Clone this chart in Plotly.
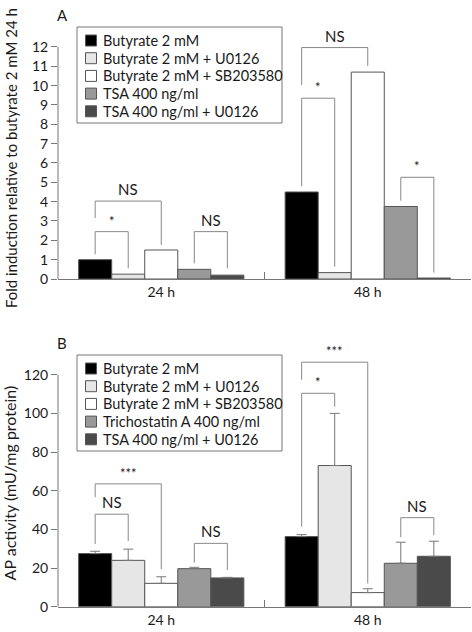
import plotly.graph_objects as go

W, H = 472, 632

# ---------------- data ----------------
categories = ["24 h", "48 h"]

names_a = ["Butyrate 2 mM", "Butyrate 2 mM + U0126", "Butyrate 2 mM + SB203580",
           "TSA 400 ng/ml", "TSA 400 ng/ml + U0126"]
names_b = ["Butyrate 2 mM", "Butyrate 2 mM + U0126", "Butyrate 2 mM + SB203580",
           "Trichostatin A 400 ng/ml", "TSA 400 ng/ml + U0126"]

# Panel A: fold induction
fold_butyrate = [1.0, 4.5]
fold_butyrate_u0126 = [0.25, 0.33]
fold_butyrate_sb = [1.5, 10.7]
fold_tsa = [0.5, 3.75]
fold_tsa_u0126 = [0.2, 0.05]

# Panel B: AP activity (mean, upper SD)
ap_butyrate = [27.5, 36.3]
ap_butyrate_err = [1.2, 1.0]
ap_butyrate_u0126 = [24.0, 73.1]
ap_butyrate_u0126_err = [5.8, 27.0]
ap_butyrate_sb = [12.1, 7.3]
ap_butyrate_sb_err = [3.4, 2.0]
ap_tsa = [19.7, 22.5]
ap_tsa_err = [0.7, 10.9]
ap_tsa_u0126 = [14.9, 26.1]
ap_tsa_u0126_err = [0.3, 7.8]

y_ticks_a = list(range(0, 13))
y_ticks_b = [0, 20, 40, 60, 80, 100, 120]

# significance brackets: (category, bar_from, bar_to, top, left_end, right_end, label)
brackets_a = [
    (0, 0, 1, 2.45, 1.28, 0.55, "*"),
    (0, 0, 2, 4.03, 3.15, 1.76, "NS"),
    (0, 3, 4, 2.45, 0.81, 0.55, "NS"),
    (1, 0, 1, 9.35, 4.8, 0.64, "*"),
    (1, 0, 2, 11.97, 10.04, 11.02, "NS"),
    (1, 3, 4, 5.26, 4.05, 0.33, "*"),
]
brackets_b = [
    (0, 0, 1, 47.9, 32.5, 34.0, "NS"),
    (0, 0, 2, 63.6, 56.7, 19.4, "***"),
    (0, 3, 4, 32.8, 22.8, 19.0, "NS"),
    (1, 0, 1, 110.5, 41.4, 103.6, "*"),
    (1, 0, 2, 126.6, 117.5, 12.1, "***"),
    (1, 3, 4, 46.1, 36.0, 37.0, "NS"),
]

# ---------------- style ----------------
colors = ["#000000", "#e6e6e6", "#ffffff", "#999999", "#4a4a4a"]
outline = "#555555"
axis_col = "#777777"
bracket_col = "#888888"
FONT = "Lato"
TXT = "#1a1a1a"

BARGAP = 0.2
NB = 5
bar_w = (1 - BARGAP) / NB


def bar_x(cat, k):
    return cat - (1 - BARGAP) / 2 + bar_w * (k + 0.5)


def px(x):
    return x / W


def py(y):
    return 1 - y / H


fig = go.Figure()

vals_a = [fold_butyrate, fold_butyrate_u0126, fold_butyrate_sb, fold_tsa, fold_tsa_u0126]
for name, v, c in zip(names_a, vals_a, colors):
    fig.add_trace(go.Bar(x=categories, y=v, name=name, marker=dict(color=c, line=dict(color=outline, width=1)),
                         xaxis="x", yaxis="y", showlegend=False))

vals_b = [ap_butyrate, ap_butyrate_u0126, ap_butyrate_sb, ap_tsa, ap_tsa_u0126]
errs_b = [ap_butyrate_err, ap_butyrate_u0126_err, ap_butyrate_sb_err, ap_tsa_err, ap_tsa_u0126_err]
for name, v, e, c in zip(names_b, vals_b, errs_b, colors):
    fig.add_trace(go.Bar(x=categories, y=v, name=name,
                         marker=dict(color=c, line=dict(color=outline, width=1)),
                         error_y=dict(type="data", array=e, arrayminus=[0] * len(e), symmetric=False,
                                      color=axis_col, thickness=1, width=5),
                         xaxis="x2", yaxis="y2", showlegend=False))

# layout geometry (pixels)
X0, X1 = 58, 471
A_ZERO, A_TOP = 279, 37.3
B_ZERO, B_TOP = 606.7, 359.5

shapes = []
annotations = []


def add_brackets(brs, xref, yref):
    for cat, b0, b1, top, le, re, lab in brs:
        xa, xb = bar_x(cat, b0), bar_x(cat, b1)
        for (xs0, ys0, xs1, ys1) in [(xa, le, xa, top), (xa, top, xb, top), (xb, top, xb, re)]:
            shapes.append(dict(type="line", xref=xref, yref=yref, x0=xs0, y0=ys0, x1=xs1, y1=ys1,
                               line=dict(color=bracket_col, width=1), layer="above"))
        annotations.append(dict(x=(xa + xb) / 2, y=top, xref=xref, yref=yref, text=lab, showarrow=False,
                                yanchor="bottom", xanchor="center", yshift=1,
                                font=dict(family=FONT, size=15 if lab == "NS" else 13, color=TXT)))


add_brackets(brackets_a, "x", "y")
add_brackets(brackets_b, "x2", "y2")

# y axis lines (up to top tick only)
shapes.append(dict(type="line", xref="paper", yref="y", x0=px(X0), x1=px(X0), y0=0, y1=12,
                   line=dict(color=axis_col, width=1)))
shapes.append(dict(type="line", xref="paper", yref="y2", x0=px(X0), x1=px(X0), y0=0, y1=120,
                   line=dict(color=axis_col, width=1)))


def add_legend(names, top_px):
    left, right, height = 77, 282, 96
    shapes.append(dict(type="rect", xref="paper", yref="paper", x0=px(left), x1=px(right),
                       y0=py(top_px), y1=py(top_px + height), line=dict(color=axis_col, width=1),
                       fillcolor="white", layer="above"))
    for i, (nm, c) in enumerate(zip(names, colors)):
        cy = top_px + 13.5 + 17.7 * i
        shapes.append(dict(type="rect", xref="paper", yref="paper", x0=px(85.5), x1=px(96.5),
                           y0=py(cy - 5.5), y1=py(cy + 5.5), line=dict(color=outline, width=1),
                           fillcolor=c, layer="above"))
        annotations.append(dict(x=px(101), y=py(cy), xref="paper", yref="paper", text=nm, showarrow=False,
                                xanchor="left", yanchor="middle",
                                font=dict(family=FONT, size=14.5, color=TXT)))


add_legend(names_a, 27)
add_legend(names_b, 355)

annotations.append(dict(x=px(62), y=py(15), xref="paper", yref="paper", text="A", showarrow=False,
                        xanchor="center", yanchor="middle", font=dict(family=FONT, size=15, color=TXT)))
annotations.append(dict(x=px(62), y=py(343), xref="paper", yref="paper", text="B", showarrow=False,
                        xanchor="center", yanchor="middle", font=dict(family=FONT, size=15, color=TXT)))

xaxis_common = dict(domain=[px(X0), px(X1)], showline=True, linecolor=axis_col, linewidth=1,
                    ticks="inside", tickson="boundaries", ticklen=7, tickcolor=axis_col,
                    tickfont=dict(family=FONT, size=14, color=TXT), showgrid=False, zeroline=False,
                    automargin=False, fixedrange=True)
yaxis_common = dict(showline=False, ticks="outside", ticklen=6, tickcolor=axis_col,
                    tickfont=dict(family=FONT, size=14, color=TXT), showgrid=False, zeroline=False,
                    automargin=False, tickmode="array", fixedrange=True)

fig.update_layout(
    width=W, height=H,
    margin=dict(l=0, r=0, t=0, b=0),
    paper_bgcolor="white", plot_bgcolor="white",
    barmode="group", bargap=BARGAP, bargroupgap=0,
    font=dict(family=FONT, size=14, color=TXT),
    xaxis=dict(**xaxis_common, anchor="y"),
    xaxis2=dict(**xaxis_common, anchor="y2"),
    yaxis=dict(**yaxis_common, anchor="x", domain=[py(A_ZERO), py(A_TOP)], range=[0, 12.5],
               tickvals=y_ticks_a,
               title=dict(text="Fold induction relative to butyrate 2 mM 24 h",
                          font=dict(family=FONT, size=15, color=TXT), standoff=10)),
    yaxis2=dict(**yaxis_common, anchor="x2", domain=[py(B_ZERO), py(B_TOP)], range=[0, 128],
                tickvals=y_ticks_b,
                title=dict(text="AP activity (mU/mg protein)",
                           font=dict(family=FONT, size=16, color=TXT), standoff=10)),
    shapes=shapes,
    annotations=annotations,
    showlegend=False,
)

fig.write_html("out.html", config={"displayModeBar": False},
               post_script="document.body.style.margin='0';document.body.style.padding='0';")
